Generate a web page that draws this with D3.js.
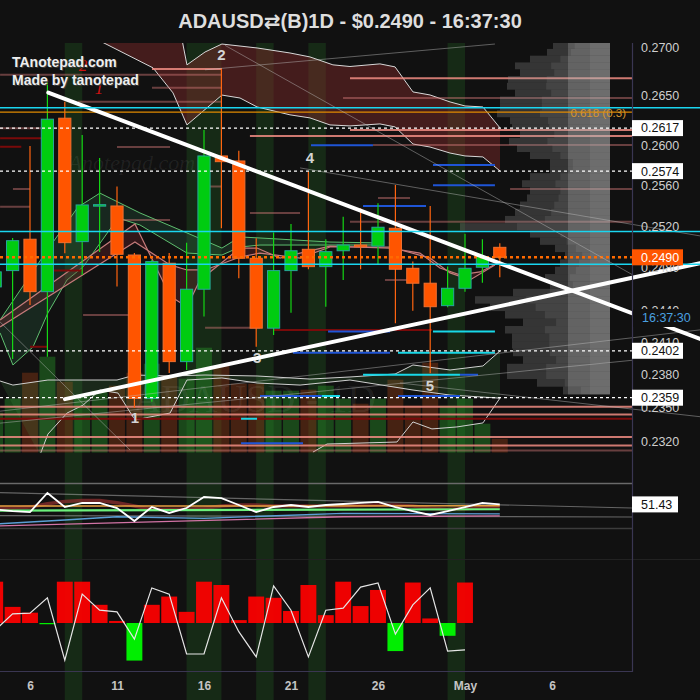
<!DOCTYPE html>
<html><head><meta charset="utf-8">
<script src="https://cdn.jsdelivr.net/npm/d3@7"></script>
<style>html,body{margin:0;padding:0;background:#111;}svg{display:block;font-family:"Liberation Sans",Arial,"DejaVu Sans",sans-serif;}</style>
</head><body><svg id="c" width="700" height="700"></svg>
<script>
// ---------------- DATA ----------------
const titleText = "ADAUSD\u21C4(B)1D - $0.2490 - 16:37:30";
// day numbers: April days, May 1 = 31
const days   = [4,5,6,7,8,9,10,11,12,13,14,15,16,17,18,19,20,21,22,23,24,25,26,27,28,29,30,31,32,33];
const opens  = [0.24618,0.24773,0.25074,0.24573,0.26270,0.25051,0.25400,0.25397,0.24922,0.23584,0.24843,0.23920,0.24596,0.25891,0.25841,0.24891,0.24230,0.24773,0.24977,0.24811,0.24963,0.25018,0.25008,0.25180,0.24795,0.24653,0.24441,0.24605,0.24805,0.24996];
const highs  = [0.24850,0.25086,0.25990,0.26633,0.26438,0.26101,0.25871,0.25587,0.24941,0.24875,0.24941,0.25041,0.26152,0.26781,0.25943,0.25084,0.25139,0.25222,0.25735,0.25074,0.25293,0.25374,0.25423,0.25604,0.24859,0.25397,0.24811,0.25126,0.25074,0.25035];
const lows   = [0.24550,0.23944,0.24447,0.23965,0.24939,0.24732,0.24951,0.24621,0.23496,0.23553,0.23816,0.23843,0.24338,0.25180,0.24700,0.24058,0.24167,0.24375,0.24786,0.24431,0.24684,0.24786,0.24827,0.24276,0.24394,0.23813,0.24426,0.24573,0.24658,0.24710];
const closes = [0.24761,0.25060,0.24573,0.26260,0.25041,0.25407,0.25410,0.24929,0.23584,0.24859,0.23920,0.24596,0.25891,0.25834,0.24891,0.24230,0.24773,0.24963,0.24811,0.24954,0.25018,0.25001,0.25190,0.24786,0.24653,0.24431,0.24605,0.24795,0.24906,0.24900];
const volumes = [160,216,320,384,284,228,248,268,320,356,308,296,420,348,276,276,248,248,252,268,216,196,216,292,188,360,188,216,116,56];
const rsi    = [47,45.5,44.6,61.6,49.1,52.7,52.7,48.2,36.6,49.1,43.8,48.2,58.0,57.1,50.9,44.6,49.1,50.9,49.1,50.9,51.8,52.7,53.6,49.1,45.5,42.0,45.5,49.1,52.7,51.43];
const rsiMA  = [48,48,49,52,54,55,55,53,50,47,47,47,48,50,51,51,50,50,50,50,50,50.5,51,51,50,48,47,47.5,48.5,49];
const oscHist = [1.0,0.39,0.25,-0.03,1.0,1.0,0.44,0.05,-0.91,0.44,0.64,0.27,1.0,0.92,0.07,0.64,0.61,0.29,0.92,0.19,1.0,0.41,0.80,-0.68,0.98,0.11,-0.31,0.98,null,null];
const oscLine = [-0.17,0.22,0.24,0.61,-0.90,0.70,0.31,0.27,-0.39,0.85,0.70,-0.75,-0.75,0.61,-0.21,-0.82,0.90,0.31,-0.82,0.31,0.36,0.87,0.97,-0.27,0.44,0.85,-0.68,-0.65];

const dateTicks = [6,11,16,21,26,31,36];
const dateLabels = ["6","11","16","21","26","May","6"];
const priceTicks = [0.2700,0.2650,0.2600,0.2560,0.2520,0.2480,0.2440,0.2410,0.2380,0.2350,0.2320];
const markedLevels = [0.2617,0.2574,0.2402,0.2359];
const lastPrice = 0.2490;
const lastPriceLabel = "0.2490";
const countdown = "16:37:30";
const rsiLast = "51.43";
const cyanLevels = [0.26376,0.25148,0.24834];
const fibLevel = 0.26331;
const fibLabel = "0.618 (0.3)";

// highlighted day bands: start day, length in days
const bandStart = [8,15,19,22,30];
const bandLen   = [1,2,1,1,1];

// trendlines [day, price]
const trendDown = [[7.05,0.26530],[44.51,0.24130]];
const trendUp   = [[8.01,0.23577],[44.51,0.24843]];

// cloud lines [day, price]
const cloudA = [[9.4,0.27120],[13.07,0.26784],[14.22,0.26527],[15.02,0.26202],[17.03,0.26505],[18.07,0.26475],[19.05,0.26384],[20.94,0.26304],[22.09,0.26273],[23.24,0.26202],[24.39,0.26192],[26.11,0.26212],[26.98,0.26182],[28.01,0.26010],[28.99,0.25980],[30.14,0.25920],[31.0,0.25891],[32.03,0.25881],[33.01,0.25742]];
const cloudB = [[9.4,0.27450],[14.74,0.27073],[15.02,0.26815],[16.06,0.26948],[17.03,0.27031],[19.05,0.26990],[20.94,0.26938],[22.09,0.26897],[23.41,0.26815],[24.39,0.26798],[26.11,0.26825],[26.98,0.26794],[28.01,0.26537],[28.99,0.26506],[30.14,0.26435],[31.0,0.26394],[32.03,0.26384],[33.01,0.26172]];
const lowCloudU = [[4.28,0.23742],[5.02,0.23705],[7.03,0.23751],[11,0.23751],[12.03,0.23797],[14.05,0.23788],[16.06,0.23797],[19.05,0.23788],[22.09,0.23760],[24.39,0.23779],[26.98,0.23806],[28.01,0.23889],[30.14,0.23843],[32.03,0.23880],[33.01,0.24018]];
const lowCloudL = [[6.57,0.23074],[7.03,0.23262],[8.13,0.23451],[9.05,0.23523],[10.02,0.23660],[11.06,0.23632],[12.03,0.23389],[14.05,0.23451],[15.02,0.23751],[17.03,0.23770],[19.05,0.23724],[21.52,0.23705],[24.39,0.23751],[28.01,0.23660],[30.14,0.23614],[33.01,0.23586]];
const lowCloudL2 = [[22.26,0.23101],[23.07,0.23173],[27.09,0.23191],[28.01,0.23371],[29.10,0.23308],[30.54,0.23326],[32.03,0.23362],[33.01,0.23586]];

// moving-average bands
const maGreenHi = [[4.28,0.24307],[7.0,0.24970],[8.76,0.25387],[10.02,0.25523],[12.32,0.25329],[15.02,0.25135],[17.03,0.24989],[18.07,0.25096],[19.22,0.25086],[23.24,0.25047],[26.11,0.25038]];
const maGreenLo = [[4.28,0.24186],[5.02,0.23889],[6.17,0.24055],[7.03,0.24373],[8.13,0.24684],[9.05,0.24808],[11.06,0.25280],[12.32,0.25212],[15.02,0.24941],[17.03,0.24922],[18.07,0.24999],[19.22,0.25018],[26.11,0.25018]];
const maPink1 = [[4.28,0.24307],[12.03,0.25222],[14.05,0.24532],[15.02,0.24429],[15.77,0.24684],[18.07,0.24989],[19.05,0.24989],[20.37,0.24893],[21.52,0.24941],[23.24,0.25008],[26.69,0.24989],[28.41,0.24941],[29.56,0.24798],[30.71,0.24732],[31.86,0.24760],[33.01,0.24855]];
const maPink2 = [[4.28,0.24242],[12.03,0.25047],[14.05,0.24827],[15.02,0.24779],[16.06,0.24779],[18.07,0.24903],[19.22,0.24941],[21.52,0.24893],[23.24,0.24999],[26.69,0.24999],[28.99,0.24893],[30.14,0.24751],[31.29,0.24684],[32.72,0.24827]];

// thin gray guide lines [day, price] pairs
const guideLines = [
  [[16.06,0.26764],[32.72,0.27031]],
  [[4.28,0.24288],[11.75,0.23119]],
  [[17.21,0.27017],[40.6,0.24736]],
  [[21.52,0.25772],[44.51,0.25106]],
  [[4.28,0.23468],[44.51,0.24214]],
  [[4.28,0.23360],[40.6,0.23932]],
  [[27.26,0.23724],[44.51,0.23418]]
];

// horizontal segments: [fromDay, toDay (null = price axis), price]
const brightSalmon = [[13.01,17.03,0.26771],[24.39,null,0.26678],[24.39,null,0.26152],[18.64,null,0.26091],[4.28,null,0.23507],[4.28,null,0.23438],[4.28,null,0.23235],[4.28,null,0.23160]];
const dimSalmon = [[4.28,17.03,0.26712],[23.99,null,0.26475],[25.71,null,0.26000],[33.59,null,0.25564],[24.39,null,0.25244],[4.28,6.8,0.26169],[5.02,6,0.25564],[4.28,6,0.25390],[11.17,14.05,0.25261],[11,14.05,0.25980],[9.05,12.03,0.24354],[16.06,19.22,0.24233],[16.06,17.03,0.25587],[26,27.84,0.25475],[26.4,27.84,0.24684],[18.64,21.52,0.25329],[8.76,17.03,0.26438],[13.01,17.03,0.26579],[4.28,null,0.23116]];
const darkRedLevels = [[4.28,7.03,0.26068],[4.28,5.5,0.25983],[7.03,9.05,0.24773],[6,7.03,0.24058],[19.97,29.10,0.24214],[4.28,null,0.23400]];
const blueSegs = [[22.15,25.71,0.25997],[29.16,32.72,0.25802],[29.16,32.72,0.25601],[25.14,28.76,0.25397],[23.13,26.69,0.24198],[21.11,26.69,0.24002],[19.22,22.78,0.23605],[27.15,30.71,0.23605],[18.13,21.69,0.23181],[30.71,31.75,0.23800]];
const cyanSegs = [[29.16,32.72,0.24198],[27.15,32.72,0.24002],[25.14,30.71,0.23800],[22.78,23.82,0.23605],[18.13,19.05,0.23400]];

// wave labels
const waveText  = ["1","2","3","4","5"];
const waveDay   = [12.03,17.0,19.05,22.09,28.99];
const wavePrice = [0.23406,0.26918,0.23954,0.25871,0.23697];
const redText   = ["1","2"];
const redDay    = [9.96,9.05];
const redPrice  = [0.26579,0.26815];

// volume profile (top bin downward)
const profileTop = 0.2705, profileStep = 0.0007;
const profileVol = [57,63,80,95,90,102,103,95,110,110,113,100,98,90,101,93,80,60,60,80,88,80,83,90,95,105,150,80,70,55,45,50,55,65,60,97,135,120,105,87,105,98,98,97,87,103,103,73,47];

// RSI panel extra lines [day, value]
const rsiAvg   = [[4,50.0],[33,50.2]];
const rsiGreen = [[4,45.8],[33,47.1]];
const rsiBlue  = [[4,33.9],[8,37.5],[11,40.4],[16,39],[24,43.5],[33,43]];
const rsiPink  = [[4,32.1],[24,40.4],[33,41.1]];
const rsiGuide = [[[4,62],[40.6,48.2]],[[4,41.5],[40.6,40.2]]];
const rsiLevels = [70,30];

// ---------------- LAYOUT ----------------
const W = 700, H = 700, plotR = 632;
const x = d3.scaleLinear().domain([6,36]).range([30,552]);
const y = d3.scaleLog().domain([0.232,0.27]).range([441,47]);
const yVol = d3.scaleLinear().domain([0,420]).range([452.7,347.7]);
const yRsi = d3.scaleLinear().domain([0,100]).range([562,450]);
const yOsc = d3.scaleLinear().domain([-1,1]).range([664.3,581.7]);
const step = x(1) - x(0);
const END = x.invert(plotR);

const svg = d3.select("#c");
svg.append("rect").attr("width",W).attr("height",H).attr("fill","#111111");
const defs = svg.append("defs");
function clip(id,x0,y0,x1,y1){defs.append("clipPath").attr("id",id).append("rect").attr("x",x0).attr("y",y0).attr("width",x1-x0).attr("height",y1-y0);}
clip("cMain",0,43,plotR,452.7);
clip("cExt",0,43,W,452.7);
clip("cRsi",0,453,plotR,559);
clip("cOsc",0,560,plotR,672);
clip("cAxis",plotR,43,W,H);

// bands
svg.append("g").selectAll("rect").data(bandStart).join("rect")
  .attr("x",d=>x(d)).attr("width",(d,i)=>x(d+bandLen[i])-x(d))
  .attr("y",43).attr("height",H-43).attr("fill","rgba(40,120,40,0.25)");

const main = svg.append("g").attr("clip-path","url(#cMain)");
const ext = svg.append("g").attr("clip-path","url(#cExt)");
const line = d3.line().x(p=>x(p[0])).y(p=>y(p[1]));
const poly = (a,b)=> line(a.concat(b.slice().reverse())) + "Z";

// upper cloud
main.append("path").attr("d",poly(cloudA,cloudB)).attr("fill","rgba(130,42,42,0.45)");
[cloudA,cloudB].forEach(c=>main.append("path").attr("d",line(c)).attr("fill","none").attr("stroke","#d8d8d8").attr("stroke-width",1));

// volume
main.append("g").selectAll("rect").data(days).join("rect")
  .attr("x",d=>x(d)-(step-1.5)/2).attr("width",step-1.5)
  .attr("y",(d,i)=>yVol(volumes[i])).attr("height",(d,i)=>yVol(0)-yVol(volumes[i]))
  .attr("fill",(d,i)=>closes[i]>=opens[i]?"rgba(40,150,40,0.42)":"rgba(150,60,20,0.40)");

// lower cloud
main.append("path").attr("d",poly(lowCloudU,lowCloudL)).attr("fill","rgba(70,150,70,0.18)");
[lowCloudU,lowCloudL,lowCloudL2].forEach(c=>main.append("path").attr("d",line(c)).attr("fill","none").attr("stroke","#d0d0d0").attr("stroke-width",1));

// watermarks
main.append("text").attr("x",133).attr("y",412).text("ADAUSD - 1D")
  .attr("font-family","'Liberation Serif','DejaVu Serif',serif").attr("font-size",39).attr("fill","rgba(255,255,255,0.08)");
main.append("text").attr("x",58).attr("y",170).text("TAnotepad.com")
  .attr("font-family","'Liberation Serif','DejaVu Serif',serif").attr("font-style","italic").attr("font-size",22).attr("fill","rgba(255,255,255,0.07)");

// MA bands
main.append("path").attr("d",poly(maGreenHi,maGreenLo)).attr("fill","rgba(60,150,100,0.18)");
[maGreenHi,maGreenLo].forEach(c=>main.append("path").attr("d",line(c)).attr("fill","none").attr("stroke","#5fbf6f").attr("stroke-width",1));
main.append("path").attr("d",poly(maPink1,maPink2)).attr("fill","rgba(130,40,50,0.3)");
[maPink1,maPink2].forEach(c=>main.append("path").attr("d",line(c)).attr("fill","none").attr("stroke","#c47a7a").attr("stroke-width",1.2));

// guide lines
ext.append("g").selectAll("path").data(guideLines).join("path").attr("d",line)
  .attr("fill","none").attr("stroke","rgba(190,190,190,0.45)").attr("stroke-width",1);

// horizontal segments
function segs(g,data,color,width){
  g.append("g").selectAll("line").data(data).join("line")
    .attr("x1",d=>x(d[0])).attr("x2",d=>x(d[1]===null?END:d[1]))
    .attr("y1",d=>y(d[2])).attr("y2",d=>y(d[2]))
    .attr("stroke",color).attr("stroke-width",width);
}
segs(main,dimSalmon,"rgba(210,120,120,0.45)",2);
segs(main,brightSalmon,"rgba(240,140,130,0.85)",2);
segs(main,darkRedLevels,"#7a0a0a",2);
segs(main,blueSegs,"#1f55d6",2);
segs(main,cyanSegs,"#18d8e8",2);

// candles
const cg = main.append("g");
const bw = step*0.7;
cg.selectAll("line").data(days).join("line")
  .attr("x1",d=>x(d)).attr("x2",d=>x(d))
  .attr("y1",(d,i)=>y(highs[i])).attr("y2",(d,i)=>y(lows[i]))
  .attr("stroke",(d,i)=>closes[i]>=opens[i]?"#14d614":"#ff6410").attr("stroke-width",1.2);
cg.selectAll("rect").data(days).join("rect")
  .attr("x",d=>x(d)-bw/2).attr("width",bw)
  .attr("y",(d,i)=>y(Math.max(opens[i],closes[i])))
  .attr("height",(d,i)=>Math.max(1.5,y(Math.min(opens[i],closes[i]))-y(Math.max(opens[i],closes[i]))))
  .attr("fill",(d,i)=>closes[i]>=opens[i]?"#00cc10":"#ff5500")
  .attr("stroke",(d,i)=>closes[i]>=opens[i]?"#26a69a":"#f07030").attr("stroke-width",1);

// wave labels
main.append("g").selectAll("text").data(waveText).join("text")
  .attr("x",(d,i)=>x(waveDay[i])).attr("y",(d,i)=>y(wavePrice[i])).attr("dy","0.35em")
  .attr("text-anchor","middle").attr("font-size",15).attr("font-weight","bold").attr("fill","#d4d4d4").text(d=>d);
main.append("g").selectAll("text").data(redText).join("text")
  .attr("x",(d,i)=>x(redDay[i])).attr("y",(d,i)=>y(redPrice[i])).attr("dy","0.35em")
  .attr("text-anchor","middle").attr("font-size",17).attr("font-style","italic")
  .attr("font-family","'Liberation Serif','DejaVu Serif',serif").attr("fill","#d01212").text(d=>d);

// trendlines
[trendDown,trendUp].forEach(t=>ext.append("path").attr("d",line(t)).attr("fill","none")
  .attr("stroke","#ffffff").attr("stroke-width",4).attr("stroke-linecap","round"));

// volume profile
const pg = main.append("g");
const profRight = 610;
const pw = d3.scaleLinear().domain([0,150]).range([0,150]);
const rowY = (d,i)=>y(profileTop-i*profileStep);
const rowH = (d,i)=>y(profileTop-(i+1)*profileStep)-y(profileTop-i*profileStep);
pg.selectAll("rect.a").data(profileVol).join("rect").attr("class","a")
  .attr("x",d=>profRight-pw(d)).attr("width",d=>pw(d)).attr("y",rowY).attr("height",rowH)
  .attr("fill","rgba(150,150,150,0.27)");
pg.selectAll("rect.b").data(profileVol).join("rect").attr("class","b")
  .attr("x",d=>profRight-pw(d)*0.62).attr("width",d=>pw(d)*0.62).attr("y",rowY).attr("height",rowH)
  .attr("fill","rgba(170,170,170,0.13)");
pg.selectAll("rect.c").data(profileVol).join("rect").attr("class","c")
  .attr("x",d=>profRight-Math.min(pw(d),42)).attr("width",d=>Math.min(pw(d),42)).attr("y",rowY).attr("height",rowH)
  .attr("fill","rgba(200,200,200,0.24)");
pg.selectAll("rect.d").data(profileVol).join("rect").attr("class","d")
  .attr("x",d=>profRight-Math.min(pw(d),20)).attr("width",d=>Math.min(pw(d),20)).attr("y",rowY).attr("height",rowH)
  .attr("fill","rgba(210,210,210,0.10)");

// level lines on top
main.append("g").selectAll("line").data(markedLevels).join("line")
  .attr("x1",0).attr("x2",plotR).attr("y1",d=>y(d)).attr("y2",d=>y(d))
  .attr("stroke","#ffffff").attr("stroke-width",1.3).attr("stroke-dasharray","3,3");
main.append("line").attr("x1",0).attr("x2",plotR).attr("y1",y(fibLevel)).attr("y2",y(fibLevel))
  .attr("stroke","#e08a00").attr("stroke-width",1.2);
ext.append("g").selectAll("line").data(cyanLevels).join("line")
  .attr("x1",0).attr("x2",W).attr("y1",d=>y(d)).attr("y2",d=>y(d))
  .attr("stroke","#1ad6f0").attr("stroke-width",1.6);
main.append("line").attr("x1",0).attr("x2",plotR).attr("y1",y(lastPrice)).attr("y2",y(lastPrice))
  .attr("stroke","#ff6a00").attr("stroke-width",2.5).attr("stroke-dasharray","3,3");
main.append("text").attr("x",626).attr("y",y(fibLevel)+1).attr("dy","0.35em").attr("text-anchor","end")
  .attr("font-size",11.5).attr("fill","#d69530").text(fibLabel);

// ---------------- RSI panel ----------------
const rg = svg.append("g").attr("clip-path","url(#cRsi)");
const rl = d3.line().x(p=>x(p[0])).y(p=>yRsi(p[1]));
rg.selectAll("line.lv").data(rsiLevels).join("line").attr("class","lv")
  .attr("x1",0).attr("x2",plotR).attr("y1",d=>yRsi(d)).attr("y2",d=>yRsi(d))
  .attr("stroke",(d,i)=>i===0?"#6a6a6a":"#3c3c3c").attr("stroke-width",1.5);
rsiGuide.forEach(g=>rg.append("path").attr("d",rl(g)).attr("fill","none").attr("stroke","rgba(170,170,170,0.55)").attr("stroke-width",1.2));
rg.append("path").attr("d",rl(days.map((d,i)=>[d,rsiMA[i]]))).attr("fill","none").attr("stroke","rgba(140,45,45,0.75)").attr("stroke-width",3.5).attr("stroke-linejoin","round");
rg.append("path").attr("d",rl(rsiPink)).attr("fill","none").attr("stroke","#d274a6").attr("stroke-width",1.3);
rg.append("path").attr("d",rl(rsiBlue)).attr("fill","none").attr("stroke","#5a9fd6").attr("stroke-width",1.3);
rg.append("path").attr("d",rl(rsiAvg)).attr("fill","none").attr("stroke","#e8a040").attr("stroke-width",1.5);
rg.append("path").attr("d",rl(rsiGreen)).attr("fill","none").attr("stroke","#6cf07c").attr("stroke-width",2.2);
rg.append("path").attr("d",rl(days.map((d,i)=>[d,rsi[i]]))).attr("fill","none").attr("stroke","#ffffff").attr("stroke-width",1.8);

// ---------------- oscillator panel ----------------
const og = svg.append("g").attr("clip-path","url(#cOsc)");
og.selectAll("rect").data(days.filter((d,i)=>oscHist[i]!==null)).join("rect")
  .attr("x",d=>x(d)-(step-1.5)/2).attr("width",step-1.5)
  .attr("y",(d,i)=>yOsc(Math.max(0,oscHist[i]))).attr("height",(d,i)=>Math.max(1,Math.abs(yOsc(oscHist[i])-yOsc(0))))
  .attr("fill",(d,i)=>oscHist[i]>=0?"#ff0000":"#00ff00").attr("opacity",0.93);
og.append("path").attr("d",d3.line().x((v,i)=>x(days[i])).y(v=>yOsc(v))(oscLine))
  .attr("fill","none").attr("stroke","#e6e6e6").attr("stroke-width",1.2);

// ---------------- frames & axes ----------------
svg.append("line").attr("x1",0).attr("x2",W).attr("y1",559.5).attr("y2",559.5).attr("stroke","#222").attr("stroke-width",1);
svg.append("line").attr("x1",plotR+0.5).attr("x2",plotR+0.5).attr("y1",43).attr("y2",672).attr("stroke","#3a3652").attr("stroke-width",1.2);
svg.append("line").attr("x1",0).attr("x2",plotR+0.5).attr("y1",671.5).attr("y2",671.5).attr("stroke","#3a3652").attr("stroke-width",1.2);

const axG = svg.append("g").attr("clip-path","url(#cAxis)");
const ya = axG.append("g").attr("transform",`translate(${plotR},0)`)
  .call(d3.axisRight(y).tickValues(priceTicks).tickFormat(d3.format(".4f")).tickSize(0).tickPadding(9));
ya.select(".domain").remove();
ya.selectAll("text").attr("font-size",12.5).attr("fill","#cfcfcf").attr("font-family","'Liberation Sans',Arial,sans-serif");

function box(label,bg,fg,yy){
  axG.append("rect").attr("x",plotR).attr("y",yy-8).attr("width",51).attr("height",16).attr("fill",bg);
  axG.append("text").attr("x",plotR+9).attr("y",yy).attr("dy","0.35em").attr("font-size",12.5).attr("fill",fg).text(label);
}
markedLevels.forEach(v=>box(d3.format(".4f")(v),"#ffffff","#111",y(v)));
box(lastPriceLabel,"#ff5500","#ffffff",y(lastPrice));
axG.append("rect").attr("x",plotR+1).attr("y",309).attr("width",67).attr("height",18).attr("fill","#111111");
axG.append("text").attr("x",plotR+10).attr("y",317.5).attr("dy","0.35em").attr("font-size",12.5).attr("fill","#4aa0e0").text(countdown);
// RSI value box
axG.append("rect").attr("x",plotR).attr("y",yRsi(+rsiLast)-8).attr("width",46).attr("height",16).attr("fill","#ffffff");
axG.append("text").attr("x",plotR+9).attr("y",yRsi(+rsiLast)).attr("dy","0.35em").attr("font-size",12.5).attr("fill","#111").text(rsiLast);

// date axis
const xa = svg.append("g").attr("transform","translate(0,672)")
  .call(d3.axisBottom(x).tickValues(dateTicks).tickFormat((d,i)=>dateLabels[i]).tickSize(0).tickPadding(9));
xa.select(".domain").remove();
xa.selectAll("text").attr("font-size",12).attr("font-weight","bold").attr("fill","#c4c4c4").attr("font-family","'Liberation Sans',Arial,sans-serif");

// title
svg.append("text").attr("x",350).attr("y",28).attr("text-anchor","middle")
  .attr("font-size",20).attr("font-weight","bold").attr("fill","#dedede").text(titleText);

// brand
const brand = ["TAnotepad.com","Made by tanotepad"];
brand.forEach((t,i)=>{
  svg.append("text").attr("x",13).attr("y",68+i*18).attr("font-size",14).attr("font-weight","bold").attr("fill","#3a3a3a").text(t);
  svg.append("text").attr("x",12).attr("y",67+i*18).attr("font-size",14).attr("font-weight","bold").attr("fill","#eeeeee").text(t);
});
</script>
</body></html>
